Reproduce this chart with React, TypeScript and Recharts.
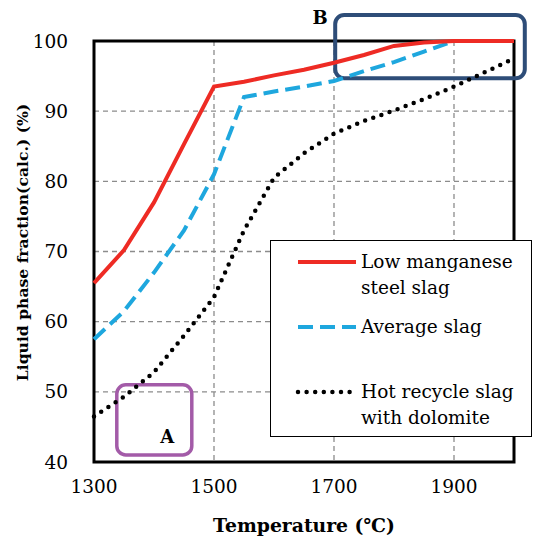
import React from 'react';
import {
  LineChart,
  Line,
  XAxis,
  YAxis,
  CartesianGrid,
  ReferenceArea,
  ReferenceDot,
} from 'recharts';

// ─── Data ──────────────────────────────────────────────────────────────────
const temperatures = [1300, 1350, 1400, 1450, 1500, 1550, 1600, 1650, 1700, 1750, 1800, 1850, 1900, 1950, 2000];
const lowManganese = [65.5, 70.2, 77, 85.3, 93.5, 94.2, 95.1, 95.9, 96.9, 98, 99.3, 99.8, 100, 100, 100];
const averageSlag = [57.5, 61.5, 67, 73, 81, 92, 92.8, 93.5, 94.3, 95.7, 97, 98.5, 100, 100, 100];
const hotRecycle = [46.5, 49.3, 52.8, 58, 63.5, 73, 80.5, 84, 86.8, 88.6, 90.1, 91.7, 93.5, 95.5, 97.5];

const xTicks = [1300, 1500, 1700, 1900];
const yTicks = [40, 50, 60, 70, 80, 90, 100];

// annotation boxes in data units
const boxA = { x1: 1338, x2: 1463, y1: 41, y2: 51, label: 'A', lx: 1422, ly: 43.6 };
const boxB = { x1: 1702, x2: 2018, y1: 94.7, y2: 103.7, label: 'B', lx: 1677, ly: 103.3 };

const SERIF = '"DejaVu Serif", "Liberation Serif", serif';
const RED = '#EE2B24';
const BLUE = '#1EA7DE';
const BLACK = '#000000';

const data = temperatures.map((t, i) => ({
  t,
  low: lowManganese[i],
  avg: averageSlag[i],
  hot: hotRecycle[i],
}));

const series = [
  { key: 'low', name: 'Low manganese\nsteel slag', color: RED, width: 4, dash: undefined, cap: 'butt' as const },
  { key: 'avg', name: 'Average slag', color: BLUE, width: 4, dash: '15 7', cap: 'butt' as const },
  { key: 'hot', name: 'Hot recycle slag\nwith dolomite', color: BLACK, width: 4.5, dash: '0 8.6', cap: 'round' as const },
];

function LegendBox() {
  return (
    <div
      style={{
        position: 'absolute',
        left: 270,
        top: 240,
        width: 262,
        height: 197,
        boxSizing: 'border-box',
        background: '#fff',
        border: '1.5px solid #000',
        paddingTop: 8,
        fontFamily: SERIF,
        fontSize: 18.5,
        color: '#000',
      }}
    >
      {series.map((s) => (
        <div key={s.key} style={{ display: 'flex', height: 65, alignItems: 'flex-start' }}>
          <svg width={88} height={26} style={{ flexShrink: 0 }}>
            <line
              x1={27}
              x2={85}
              y1={13}
              y2={13}
              stroke={s.color}
              strokeWidth={s.width}
              strokeDasharray={s.dash}
              strokeLinecap={s.cap}
            />
          </svg>
          <div style={{ whiteSpace: 'pre-line', lineHeight: '26px', marginLeft: 2 }}>{s.name}</div>
        </div>
      ))}
    </div>
  );
}

function RoundBox(props: any) {
  const { x, y, width, height, stroke, strokeWidth } = props;
  return (
    <rect
      x={x}
      y={y}
      width={width}
      height={height}
      rx={9}
      ry={9}
      fill="none"
      stroke={stroke}
      strokeWidth={strokeWidth}
    />
  );
}

function YTitle(props: any) {
  const vb = props.viewBox;
  const cx = 22;
  const cy = vb.y + vb.height / 2 - 9;
  return (
    <text
      x={cx}
      y={cy}
      transform={`rotate(-90, ${cx}, ${cy})`}
      textAnchor="middle"
      dominantBaseline="central"
      style={{ fill: '#000', fontSize: 15.6, fontWeight: 'bold', fontFamily: SERIF }}
    >
      Liquid phase fraction(calc.) (%)
    </text>
  );
}

const labelStyle = { fill: '#000', fontSize: 18, fontWeight: 'bold', fontFamily: SERIF };
const tickStyle = { fill: '#000', fontSize: 18.5, fontFamily: SERIF };

export default function App() {
  return (
    <div style={{ position: 'absolute', left: 0, top: 0, width: 534, height: 540, background: '#fff' }}>
      <LineChart
        width={534}
        height={540}
        data={data}
        margin={{ top: 41, right: 20, left: 34, bottom: 38 }}
      >
        <CartesianGrid stroke="#8c8c8c" strokeDasharray="5 4" strokeWidth={1.3} />
        <XAxis
          dataKey="t"
          type="number"
          domain={[1300, 2000]}
          ticks={xTicks}
          height={40}
          axisLine={false}
          tickLine={false}
          tick={tickStyle}
          tickMargin={12}
          label={{
            value: 'Temperature (℃)',
            position: 'insideBottom',
            offset: -30,
            style: { ...labelStyle, fontSize: 18.8 },
          }}
        />
        <YAxis
          type="number"
          domain={[40, 100]}
          ticks={yTicks}
          width={60}
          axisLine={false}
          tickLine={false}
          tick={tickStyle}
          tickMargin={20}
          label={<YTitle />}
        />
        {series
          .slice()
          .reverse()
          .map((s) => (
            <Line
              key={s.key}
              dataKey={s.key}
              name={s.name}
              stroke={s.color}
              strokeWidth={s.width}
              strokeDasharray={s.dash}
              strokeLinecap={s.cap}
              dot={false}
              activeDot={false}
              isAnimationActive={false}
            />
          ))}
        <ReferenceArea
          x1={1300}
          x2={2000}
          y1={40}
          y2={100}
          fill="none"
          stroke="#000"
          strokeWidth={3}
          ifOverflow="visible"
        />
        <ReferenceArea
          x1={boxA.x1}
          x2={boxA.x2}
          y1={boxA.y1}
          y2={boxA.y2}
          stroke="#A35BA8"
          strokeWidth={3.5}
          ifOverflow="visible"
          shape={<RoundBox />}
        />
        <ReferenceArea
          x1={boxB.x1}
          x2={boxB.x2}
          y1={boxB.y1}
          y2={boxB.y2}
          stroke="#2E4D78"
          strokeWidth={4}
          ifOverflow="visible"
          shape={<RoundBox />}
        />
        <ReferenceDot
          x={boxA.lx}
          y={boxA.ly}
          r={0}
          ifOverflow="visible"
          label={{ value: boxA.label, position: 'center', style: labelStyle }}
        />
        <ReferenceDot
          x={boxB.lx}
          y={boxB.ly}
          r={0}
          ifOverflow="visible"
          label={{ value: boxB.label, position: 'center', style: labelStyle }}
        />
      </LineChart>
      <LegendBox />
    </div>
  );
}
